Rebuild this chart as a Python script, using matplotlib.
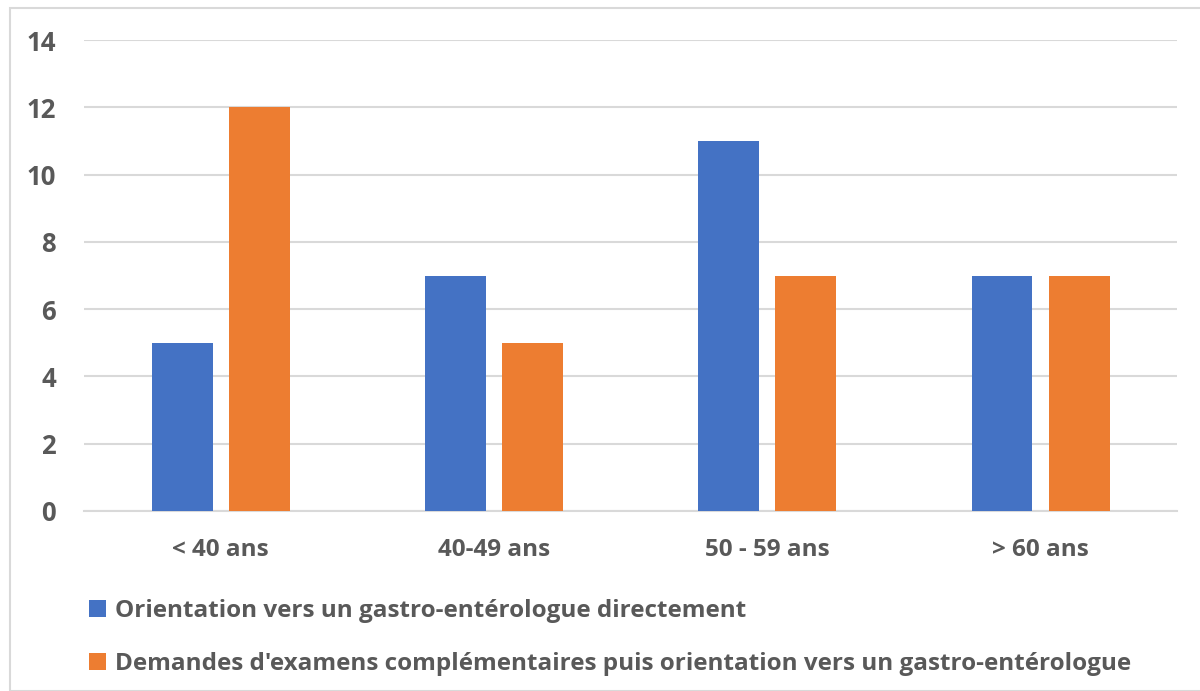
import numpy as np
import matplotlib
matplotlib.use("Agg")
from matplotlib import pyplot as plt
from matplotlib.patches import Rectangle

categories = ["< 40 ans", "40-49 ans", "50 - 59 ans", "> 60 ans"]
direct = [5, 7, 11, 7]
examens = [12, 5, 7, 7]
labels = ["Orientation vers un gastro-entérologue directement",
          "Demandes d'examens complémentaires puis orientation vers un gastro-entérologue"]

plt.rcParams['font.family'] = ['Open Sans', 'DejaVu Sans']
plt.rcParams['font.weight'] = 'bold'
txt = '#595959'
grid = '#d9d9d9'

fig = plt.figure(figsize=(12, 6.91), dpi=100)
ax = fig.add_axes([0.07, 0.2605, 0.911, 0.6816])

# frame around the whole chart
fig.patches.append(Rectangle((10/1200, 0), 1.0, 1 - 8/691, transform=fig.transFigure,
                             fill=False, edgecolor=grid, linewidth=1.5))

x = np.arange(len(categories))
w = 0.223
off = 0.141
ax.bar(x - off, direct, w, color='#4472C4', label=labels[0], zorder=3)
ax.bar(x + off, examens, w, color='#ED7D31', label=labels[1], zorder=3)

ax.set_xlim(-0.5, 3.5)
ax.set_ylim(0, 14)
ax.set_yticks(range(0, 15, 2))
ax.set_xticks(x)
ax.set_xticklabels(categories)
ax.yaxis.grid(True, color=grid, linewidth=1.5, zorder=0)
for s in ['top', 'right', 'left']:
    ax.spines[s].set_visible(False)
ax.spines['bottom'].set_color(grid)
ax.spines['bottom'].set_linewidth(1.5)
ax.tick_params(axis='both', length=0, colors=txt, labelsize=17.5)
ax.tick_params(axis='y', pad=20, labelsize=18.5)
ax.tick_params(axis='x', pad=19.5)
for t in ax.get_xticklabels() + ax.get_yticklabels():
    t.set_fontweight('bold')

leg = fig.legend(loc='upper left', bbox_to_anchor=(0.0742, 0.133), bbox_transform=fig.transFigure,
                 frameon=False, fontsize=17.5, handlelength=0.7, handleheight=0.7,
                 handletextpad=0.37, labelspacing=1.2, borderaxespad=0, borderpad=0)
for t in leg.get_texts():
    t.set_color(txt)
    t.set_fontweight('bold')

fig.savefig('out.png', dpi=100)
